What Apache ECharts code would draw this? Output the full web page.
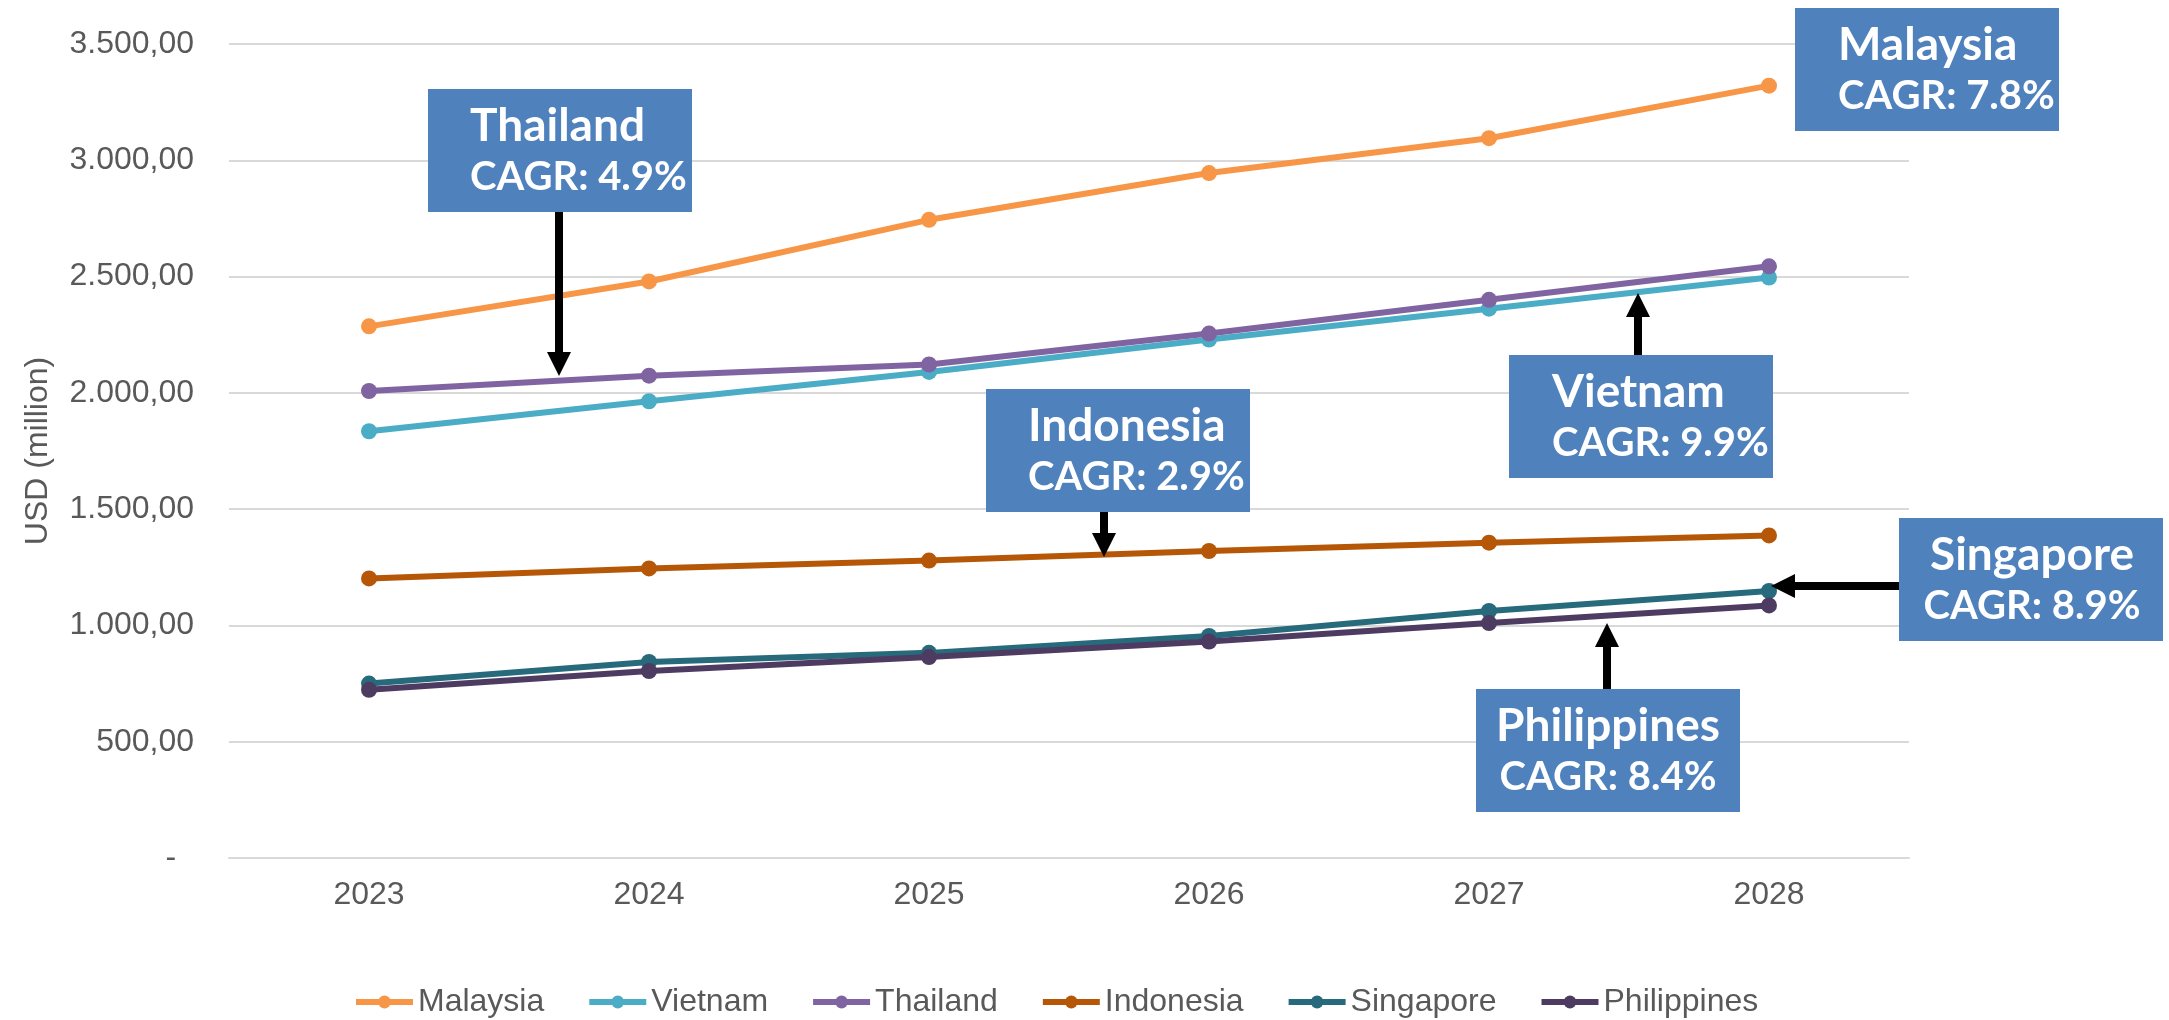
<!DOCTYPE html>
<html>
<head>
<meta charset="utf-8">
<title>USD (million) 2023-2028</title>
<script src="https://cdn.jsdelivr.net/npm/echarts@6/dist/echarts.min.js"></script>
<style>
  html, body { margin: 0; padding: 0; background: #fff; }
  #main { width: 2169px; height: 1020px; }
</style>
</head>
<body>
<div id="main"></div>
<script>
// data
var years = ['2023', '2024', '2025', '2026', '2027', '2028'];
var malaysia = [2286, 2479, 2744, 2945, 3095, 3321];
var vietnam = [1835, 1964, 2090, 2229, 2362, 2496];
var thailand = [2008, 2074, 2122, 2255, 2400, 2544];
var indonesia = [1202, 1245, 1279, 1320, 1356, 1387];
var singapore = [750, 843, 882, 955, 1062, 1148];
var philippines = [723, 804, 864, 931, 1010, 1086];

var seriesNames = ['Malaysia', 'Vietnam', 'Thailand', 'Indonesia', 'Singapore', 'Philippines'];
var seriesData = [malaysia, vietnam, thailand, indonesia, singapore, philippines];
var seriesColors = ['#F79646', '#4BACC6', '#8064A2', '#B65708', '#276A7C', '#4D3B62'];

// callout boxes: name, cagr text, box left/top, text x, align, arrow start -> tip
var callouts = [
  { name: 'Thailand', cagr: 'CAGR: 4.9%', x: 428, y: 89, tx: 470, align: 'left', from: [559, 212], to: [559, 376] },
  { name: 'Indonesia', cagr: 'CAGR: 2.9%', x: 986, y: 389, tx: 1028, align: 'left', from: [1104, 512], to: [1104, 557] },
  { name: 'Malaysia', cagr: 'CAGR: 7.8%', x: 1795, y: 8, tx: 1838, align: 'left', from: null, to: null },
  { name: 'Vietnam', cagr: 'CAGR: 9.9%', x: 1509, y: 355, tx: 1552, align: 'left', from: [1638, 355], to: [1638, 293] },
  { name: 'Singapore', cagr: 'CAGR: 8.9%', x: 1899, y: 518, tx: 2032, align: 'center', from: [1899, 586], to: [1771, 586] },
  { name: 'Philippines', cagr: 'CAGR: 8.4%', x: 1476, y: 689, tx: 1608, align: 'center', from: [1607, 689], to: [1607, 623] }
];

var textColor = '#595959';
var fontFam = '"Liberation Sans", Arial, sans-serif';

function fmtNum(v) {
  if (v === 0) return '-  ';
  var s = String(Math.round(v));
  s = s.replace(/\B(?=(\d{3})+(?!\d))/g, '.');
  return s + ',00';
}

// arrow as one polygon (shaft + head)
function arrowPoints(from, to) {
  var dx = to[0] - from[0], dy = to[1] - from[1];
  var len = Math.sqrt(dx * dx + dy * dy);
  var ux = dx / len, uy = dy / len;
  var nx = -uy, ny = ux;
  var sw = 4, hw = 12, hl = 24;
  var bx = to[0] - ux * hl, by = to[1] - uy * hl;
  return [
    [from[0] + nx * sw, from[1] + ny * sw],
    [bx + nx * sw, by + ny * sw],
    [bx + nx * hw, by + ny * hw],
    [to[0], to[1]],
    [bx - nx * hw, by - ny * hw],
    [bx - nx * sw, by - ny * sw],
    [from[0] - nx * sw, from[1] - ny * sw]
  ];
}

var graphics = [];
callouts.forEach(function (c) {
  if (c.from) {
    graphics.push({
      type: 'polygon', z: 100,
      shape: { points: arrowPoints(c.from, c.to) },
      style: { fill: '#000' }
    });
  }
  graphics.push({
    type: 'rect', z: 100,
    shape: { x: c.x, y: c.y, width: 264, height: 123 },
    style: { fill: '#4F81BD' }
  });
  graphics.push({
    type: 'text', z: 101,
    x: c.tx, y: c.y + 37,
    style: {
      text: c.name, fill: '#fff', fontSize: 46, fontWeight: 'bold',
      fontFamily: 'Lato, "Open Sans", sans-serif', align: c.align, verticalAlign: 'middle'
    }
  });
  graphics.push({
    type: 'text', z: 101,
    x: c.tx, y: c.y + 88,
    style: {
      text: c.cagr, fill: '#fff', fontSize: 40, fontWeight: 'bold',
      fontFamily: 'Lato, "Open Sans", sans-serif', align: c.align, verticalAlign: 'middle'
    }
  });
});

var seriesList = [];
seriesNames.forEach(function (name, i) {
  seriesList.push({
    name: name,
    type: 'line',
    data: seriesData[i],
    symbol: 'circle',
    symbolSize: 16,
    color: seriesColors[i],
    lineStyle: { width: 6, color: seriesColors[i] },
    itemStyle: { color: seriesColors[i] },
    emphasis: { disabled: true },
    animation: false
  });
});

var chart = echarts.init(document.getElementById('main'));
chart.setOption({
  animation: false,
  grid: { left: 229, right: 260, top: 44, bottom: 162 },
  legend: {
    data: seriesNames,
    left: 348,
    top: 981,
    itemWidth: 57,
    itemHeight: 16,
    itemGap: 42,
    lineStyle: { width: 6 },
    textStyle: { color: textColor, fontSize: 32, fontFamily: fontFam }
  },
  xAxis: {
    type: 'category',
    data: years,
    axisLine: { lineStyle: { color: '#D9D9D9', width: 2 } },
    axisTick: { show: false },
    axisLabel: { color: textColor, fontSize: 32, fontFamily: fontFam, margin: 21 }
  },
  yAxis: {
    type: 'value',
    min: 0,
    max: 3500,
    interval: 500,
    name: 'USD (million)',
    nameLocation: 'middle',
    nameGap: 175,
    nameTextStyle: { color: textColor, fontSize: 32, fontFamily: fontFam },
    axisLine: { show: false },
    axisTick: { show: false },
    splitLine: { lineStyle: { color: '#D9D9D9', width: 2 } },
    axisLabel: { color: textColor, fontSize: 32, fontFamily: fontFam, margin: 35, formatter: fmtNum }
  },
  series: seriesList,
  graphic: graphics
});
</script>
</body>
</html>
